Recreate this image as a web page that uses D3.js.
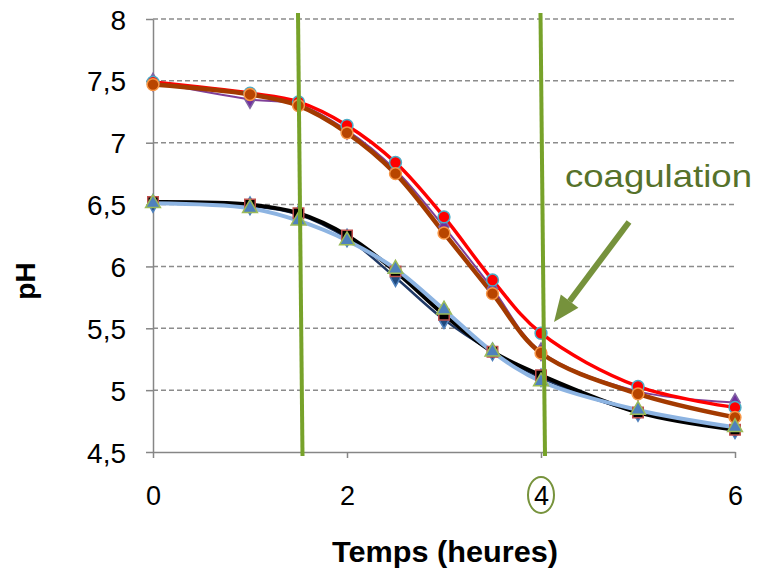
<!DOCTYPE html>
<html>
<head>
<meta charset="utf-8">
<script src="https://cdn.jsdelivr.net/npm/d3@7"></script>
<style>
  body { margin: 0; background: #fff; }
  svg { display: block; font-family: "Liberation Sans", Arial, sans-serif; }
</style>
</head>
<body>
<svg width="760" height="569"></svg>
<script>
// temps (heures)
var hours = [0, 1, 1.5, 2, 2.5, 3, 3.5, 4, 5, 6];

// upper group
var phRed    = [7.49, 7.40, 7.33, 7.14, 6.84, 6.40, 5.89, 5.46, 5.03, 4.86];
var phBrown  = [7.47, 7.39, 7.30, 7.08, 6.75, 6.27, 5.78, 5.30, 4.97, 4.78];
var phPurple = [7.49, 7.35, 7.31, 7.10, 6.78, 6.32, 5.82, 5.31, 4.99, 4.90];
// lower group
var phBlack  = [6.52, 6.50, 6.43, 6.25, 5.96, 5.61, 5.31, 5.12, 4.82, 4.68];
var phNavy   = [6.51, 6.49, 6.42, 6.23, 5.91, 5.57, 5.31, 5.10, 4.82, 4.68];
var phBlue   = [6.51, 6.47, 6.37, 6.21, 5.98, 5.65, 5.31, 5.07, 4.84, 4.70];

var yTicks = [4.5, 5, 5.5, 6, 6.5, 7, 7.5, 8];
var xTicks = [0, 2, 4, 6];

// annotations: green bars at 1.5 h and 4 h
var markHours = [1.5, 4];

var svg = d3.select("svg");
var x = d3.scaleLinear().domain([0, 6]).range([153, 735]);
var y = d3.scaleLinear().domain([4.5, 8]).range([452, 19]);
var fmt = function (d) { return String(d).replace(".", ","); };

// grid
svg.append("g").selectAll("line")
    .data(yTicks.filter(function (d) { return d > 4.5; }))
    .enter().append("line")
    .attr("x1", x(0)).attr("x2", x(6))
    .attr("y1", function (d) { return y(d); })
    .attr("y2", function (d) { return y(d); })
    .attr("stroke", "#8c8c8c").attr("stroke-width", 1.5)
    .attr("stroke-dasharray", "5,3");

// axes
var yAxis = svg.append("g").attr("transform", "translate(" + x(0) + ",0)")
    .call(d3.axisLeft(y).tickValues(yTicks).tickSize(7).tickSizeOuter(0).tickPadding(20).tickFormat(fmt));
var xAxis = svg.append("g").attr("transform", "translate(0," + y(4.5) + ")")
    .call(d3.axisBottom(x).tickValues(xTicks).tickSize(6).tickSizeOuter(0).tickPadding(28).tickFormat(fmt));
[yAxis, xAxis].forEach(function (a) {
    a.select(".domain").attr("stroke", "#868686").attr("stroke-width", 1.5);
    a.selectAll(".tick line").attr("stroke", "#868686").attr("stroke-width", 1.5);
    a.selectAll("text").attr("font-size", 28).attr("fill", "#000")
        .attr("font-family", "Liberation Sans, Arial, sans-serif");
});
yAxis.selectAll("text").attr("dy", "0.36em");
xAxis.selectAll("text").attr("font-size", 27);

// titles
svg.append("text").attr("x", 445).attr("y", 562).attr("text-anchor", "middle")
    .attr("font-size", 29).attr("font-weight", "bold")
    .attr("textLength", 226).attr("lengthAdjust", "spacingAndGlyphs")
    .text("Temps (heures)");
svg.append("text").attr("transform", "translate(35,281) rotate(-90)").attr("text-anchor", "middle")
    .attr("font-size", 28).attr("font-weight", "bold").text("pH");

// series
var line = d3.line()
    .x(function (d) { return x(d[0]); })
    .y(function (d) { return y(d[1]); })
    .curve(d3.curveCatmullRom.alpha(0.5));

var series = [
    { v: phPurple, line: "#7f3f98", w: 2, shape: d3.symbolDiamond, size: 90, fill: "#7030a0", stroke: "#8064a2" },
    { v: phRed, line: "#ff0000", w: 3.5, shape: d3.symbolCircle, size: 110, fill: "#ff0000", stroke: "#4bacc6" },
    { v: phBrown, line: "#a33a00", w: 4.5, shape: d3.symbolCircle, size: 110, fill: "#b84500", stroke: "#f79646" },
    { v: phNavy, line: "#1f3864", w: 2.5, shape: d3.symbolDiamond, size: 90, fill: "#1f497d", stroke: "#4f81bd" },
    { v: phBlack, line: "#000000", w: 4, shape: d3.symbolSquare, size: 110, fill: "#000000", stroke: "#c0504d" },
    { v: phBlue, line: "#8db4e2", w: 4, shape: d3.symbolTriangle, size: 95, fill: "#4f81bd", stroke: "#9bbb59" }
];

series.forEach(function (s) {
    var pts = hours.map(function (h, i) { return [h, s.v[i]]; });
    svg.append("path").datum(pts)
        .attr("d", line).attr("fill", "none")
        .attr("stroke", s.line).attr("stroke-width", s.w);
});
series.forEach(function (s) {
    var pts = hours.map(function (h, i) { return [h, s.v[i]]; });
    svg.append("g").selectAll("path").data(pts).enter().append("path")
        .attr("d", d3.symbol().type(s.shape).size(s.size))
        .attr("transform", function (d) { return "translate(" + x(d[0]) + "," + y(d[1]) + ")"; })
        .attr("fill", s.fill).attr("stroke", s.stroke).attr("stroke-width", 1.5);
});

// green vertical bars (slightly slanted, hand drawn)
svg.append("g").selectAll("line").data(markHours).enter().append("line")
    .attr("x1", function (d) { return x(d) - 0.5; })
    .attr("y1", 13)
    .attr("x2", function (d) { return x(d) + 4; })
    .attr("y2", 456)
    .attr("stroke", "#77a22a").attr("stroke-width", 4);

// circle around the "4" tick label
svg.append("ellipse").attr("cx", x(4)).attr("cy", 495).attr("rx", 13).attr("ry", 18)
    .attr("fill", "none").attr("stroke", "#77933c").attr("stroke-width", 2);

// coagulation label + arrow
svg.append("text").attr("x", 565).attr("y", 187)
    .attr("font-size", 32).attr("fill", "#56722b")
    .attr("textLength", 187).attr("lengthAdjust", "spacingAndGlyphs")
    .text("coagulation");

var tail = [629, 222], tip = [x(4) + 13, 322];
var ang = Math.atan2(tip[1] - tail[1], tip[0] - tail[0]);
var headLen = 26, headW = 11;
var bx = tip[0] - headLen * Math.cos(ang), by = tip[1] - headLen * Math.sin(ang);
svg.append("line").attr("x1", tail[0]).attr("y1", tail[1]).attr("x2", bx).attr("y2", by)
    .attr("stroke", "#76923c").attr("stroke-width", 6);
svg.append("path")
    .attr("d", "M" + tip[0] + "," + tip[1] +
        "L" + (bx + headW * Math.sin(ang)) + "," + (by - headW * Math.cos(ang)) +
        "L" + (bx - headW * Math.sin(ang)) + "," + (by + headW * Math.cos(ang)) + "Z")
    .attr("fill", "#76923c");
</script>
</body>
</html>
